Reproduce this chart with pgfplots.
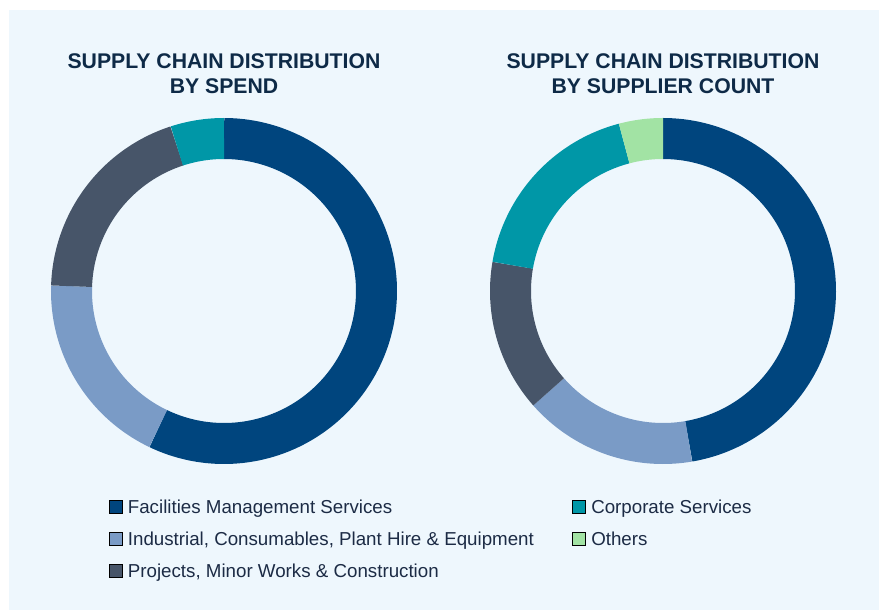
\documentclass[border=0pt]{standalone}
\usepackage{pgfplots}
\pgfplotsset{compat=1.18}
\usepgfplotslibrary{polar}
\usepackage{fontspec}
\setmainfont{Liberation Sans}

\definecolor{cBg}{HTML}{EEF7FD}
\definecolor{cFac}{HTML}{00457E}
\definecolor{cInd}{HTML}{7A9BC6}
\definecolor{cPro}{HTML}{475569}
\definecolor{cCor}{HTML}{0097A7}
\definecolor{cOth}{HTML}{A2E3A4}
\definecolor{cTitle}{HTML}{0E2A47}
\definecolor{cText}{HTML}{1C2B45}

% Spend shares (%), clockwise from 12 o'clock
\def\spFac{57.1}\def\spInd{18.4}\def\spPro{19.5}\def\spCor{5.0}
% Supplier-count shares (%)
\def\scFac{47.3}\def\scInd{16.2}\def\scPro{14.2}\def\scCor{18.2}\def\scOth{4.1}

% segment: colour, cumulative start %, cumulative end %
\newcommand{\donutseg}[3]{%
  \pgfmathsetmacro\dA{90-3.6*(#3)}%
  \pgfmathsetmacro\dB{90-3.6*(#2)}%
  \addplot[draw=#1, line width=41bp, domain=\dA:\dB, samples=150, forget plot] {152.5};%
}

\pgfplotsset{
  donut/.style={
    scale only axis, width=346bp, height=346bp, hide axis,
    ymin=0, ymax=173, xmin=0, xmax=360, enlargelimits=false, clip=false,
    anchor=center,
    legend image code/.code={\fill[##1] (0bp,0bp) rectangle (13bp,13bp);},
    legend style={draw=none, fill=none, inner sep=0pt, outer sep=0pt,
      row sep=14bp, column sep=5.5bp, anchor=north west,
      font=\fontsize{18.8}{18.8}\selectfont, text=cText,
      nodes={inner sep=0pt, text height=13bp, text depth=5bp, anchor=base west}},
  }
}

\begin{document}
\begin{tikzpicture}
\fill[white] (0,0) rectangle (880bp,610bp);
\fill[cBg] (9bp,0bp) rectangle (879bp,600bp);
\path[use as bounding box] (0,0) rectangle (880bp,610bp);

\tikzset{ttl/.style={anchor=base, font=\bfseries\fontsize{21.3}{24}\selectfont, text=cTitle}}
\node[ttl] at (224bp,541.7bp) {SUPPLY CHAIN DISTRIBUTION};
\node[ttl] at (224bp,516bp) {BY SPEND};
\node[ttl] at (663bp,541.7bp) {SUPPLY CHAIN DISTRIBUTION};
\node[ttl] at (663bp,516bp) {BY SUPPLIER COUNT};

\begin{polaraxis}[donut, at={(224bp,319bp)},
  legend style={at={(0.1676,-0.104)}}]
  \pgfmathsetmacro\cA{\spFac}
  \pgfmathsetmacro\cB{\cA+\spInd}
  \pgfmathsetmacro\cC{\cB+\spPro}
  \pgfmathsetmacro\cD{\cC+\spCor}
  \donutseg{cFac}{0}{\cA}
  \donutseg{cInd}{\cA}{\cB}
  \donutseg{cPro}{\cB}{\cC}
  \donutseg{cCor}{\cC}{\cD}
  \addlegendimage{fill=cFac}\addlegendentry{Facilities Management Services}
  \addlegendimage{fill=cInd}\addlegendentry{Industrial, Consumables, Plant Hire \& Equipment}
  \addlegendimage{fill=cPro}\addlegendentry{Projects, Minor Works \& Construction}
\end{polaraxis}

\begin{polaraxis}[donut, at={(663bp,319bp)},
  legend style={at={(0.238,-0.104)}}]
  \pgfmathsetmacro\cA{\scFac}
  \pgfmathsetmacro\cB{\cA+\scInd}
  \pgfmathsetmacro\cC{\cB+\scPro}
  \pgfmathsetmacro\cD{\cC+\scCor}
  \pgfmathsetmacro\cE{\cD+\scOth}
  \donutseg{cFac}{0}{\cA}
  \donutseg{cInd}{\cA}{\cB}
  \donutseg{cPro}{\cB}{\cC}
  \donutseg{cCor}{\cC}{\cD}
  \donutseg{cOth}{\cD}{\cE}
  \addlegendimage{fill=cCor}\addlegendentry{Corporate Services}
  \addlegendimage{fill=cOth}\addlegendentry{Others}
\end{polaraxis}
\end{tikzpicture}
\end{document}
